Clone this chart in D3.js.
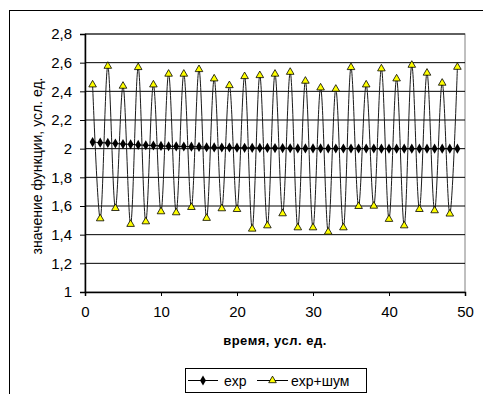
<!DOCTYPE html>
<html>
<head>
<meta charset="utf-8">
<script src="https://cdn.jsdelivr.net/npm/d3@7"></script>
<style>
  body { margin: 0; background: #fff; }
  svg { display: block; }
</style>
</head>
<body>
<div id="chartContainer"></div>
<script>
// time points
const times = d3.range(1, 50);

// exp series
const expValues = [
    2.046, 2.042, 2.040, 2.036, 2.032, 2.030, 2.026, 2.024, 2.022, 2.019,
    2.017, 2.016, 2.015, 2.014, 2.013, 2.010, 2.009, 2.008, 2.008, 2.007,
    2.006, 2.006, 2.005, 2.005, 2.004, 2.004, 2.003, 2.002, 2.002, 2.002,
    2.002, 2.001, 2.001, 2.001, 2.001, 2.001, 2.001, 2.001, 2.000, 2.000,
    2.000, 2.000, 2.000, 2.000, 2.000, 2.000, 2.000, 2.000, 2.000
];

// exp+noise series
const noiseValues = [
    2.446, 1.512, 2.576, 1.584, 2.437, 1.473, 2.567, 1.491, 2.446, 1.561,
    2.521, 1.554, 2.521, 1.591, 2.553, 1.515, 2.488, 1.582, 2.441, 1.577,
    2.504, 1.440, 2.511, 1.463, 2.521, 1.547, 2.534, 1.449, 2.472, 1.449,
    2.425, 1.419, 2.416, 1.449, 2.567, 1.598, 2.446, 1.600, 2.558, 1.508,
    2.488, 1.463, 2.583, 1.577, 2.528, 1.568, 2.458, 1.545, 2.569
];

const xTicks = [0, 10, 20, 30, 40, 50];
const yTicks = [1, 1.2, 1.4, 1.6, 1.8, 2, 2.2, 2.4, 2.6, 2.8];
const seriesNames = ['exp', 'exp+шум'];

const width = 483;
const height = 394;
const margin = { top: 34, right: 18, bottom: 102, left: 85 };

const svg = d3.select('#chartContainer')
    .append('svg')
    .attr('width', width)
    .attr('height', height)
    .style('font-family', '"Liberation Sans", Arial, sans-serif');

// outer chart frame
svg.append('rect')
    .attr('x', 9.5)
    .attr('y', 10.5)
    .attr('width', 500)
    .attr('height', 400)
    .attr('fill', 'none')
    .attr('stroke', '#000');

const scaleX = d3.scaleLinear()
    .domain([0, 50])
    .range([margin.left, width - margin.right]);

const scaleY = d3.scaleLinear()
    .domain([1, 2.8])
    .range([height - margin.bottom, margin.top]);

// plot area border
svg.append('rect')
    .attr('x', scaleX(0))
    .attr('y', scaleY(2.8))
    .attr('width', scaleX(50) - scaleX(0))
    .attr('height', scaleY(1) - scaleY(2.8))
    .attr('fill', 'none')
    .attr('stroke', '#808080');

// gridlines
svg.append('g')
    .selectAll('line')
    .data(yTicks.slice(1))
    .enter()
    .append('line')
    .attr('x1', scaleX(0))
    .attr('x2', scaleX(50))
    .attr('y1', d => scaleY(d))
    .attr('y2', d => scaleY(d))
    .attr('stroke', '#000')
    .attr('stroke-width', 1);

// X Axis
const xAxis = svg.append('g')
    .attr('transform', `translate(0, ${scaleY(1)})`)
    .call(d3.axisBottom(scaleX).tickValues(xTicks).tickSize(4).tickPadding(10).tickFormat(d3.format('d')));

// Y Axis
const yAxis = svg.append('g')
    .attr('transform', `translate(${scaleX(0)}, 0)`)
    .call(d3.axisLeft(scaleY).tickValues(yTicks).tickSize(5).tickPadding(8)
        .tickFormat(d => String(d3.format('.1~f')(d)).replace('.', ',')));

[xAxis, yAxis].forEach(ax => {
    ax.select('.domain').attr('stroke', '#000').attr('stroke-width', 1.5);
    ax.selectAll('.tick line').attr('stroke', '#000');
    ax.selectAll('.tick text')
        .attr('fill', '#000')
        .style('font-size', '15px')
        .style('font-family', '"Liberation Sans", Arial, sans-serif');
});

// axis titles
svg.append('text')
    .attr('x', (scaleX(0) + scaleX(50)) / 2)
    .attr('y', 345)
    .attr('text-anchor', 'middle')
    .style('font-size', '13px')
    .style('font-weight', 'bold')
    .style('letter-spacing', '0.5px')
    .text('время, усл. ед.');

svg.append('text')
    .attr('transform', `translate(42, ${(scaleY(1) + scaleY(2.8)) / 2 + 3}) rotate(-90)`)
    .attr('text-anchor', 'middle')
    .style('font-size', '14px')
    .text('значение функции, усл. ед.');

const expData = times.map((t, i) => ({ t: t, v: expValues[i] }));
const noiseData = times.map((t, i) => ({ t: t, v: noiseValues[i] }));

const lineMaker = d3.line()
    .x(d => scaleX(d.t))
    .y(d => scaleY(d.v))
    .curve(d3.curveCatmullRom.alpha(0.5));

svg.append('path')
    .attr('d', lineMaker(noiseData))
    .attr('fill', 'none')
    .attr('stroke', '#1a1a1a')
    .attr('stroke-width', 1);

svg.append('path')
    .attr('d', lineMaker(expData))
    .attr('fill', 'none')
    .attr('stroke', '#000')
    .attr('stroke-width', 1);

const diamond = d3.symbol(d3.symbolDiamond, 30);
const triangle = d3.symbol(d3.symbolTriangle, 25);

svg.append('g')
    .selectAll('path')
    .data(expData)
    .enter()
    .append('path')
    .attr('d', diamond())
    .attr('transform', d => `translate(${scaleX(d.t)},${scaleY(d.v)})`)
    .attr('fill', '#000');

svg.append('g')
    .selectAll('path')
    .data(noiseData)
    .enter()
    .append('path')
    .attr('d', triangle())
    .attr('transform', d => `translate(${scaleX(d.t)},${scaleY(d.v)})`)
    .attr('fill', '#ffff00')
    .attr('stroke', '#000')
    .attr('stroke-width', 0.8);

// legend
const legend = svg.append('g');
legend.append('rect')
    .attr('x', 185.5)
    .attr('y', 368.5)
    .attr('width', 181)
    .attr('height', 24)
    .attr('fill', '#fff')
    .attr('stroke', '#000');

const legendItems = [
    { name: seriesNames[0], x1: 188, x2: 218, text: 224, sym: diamond, fill: '#000' },
    { name: seriesNames[1], x1: 257, x2: 288, text: 291, sym: triangle, fill: '#ffff00' }
];

legendItems.forEach(d => {
    legend.append('line')
        .attr('x1', d.x1).attr('x2', d.x2)
        .attr('y1', 380.5).attr('y2', 380.5)
        .attr('stroke', '#000');
    legend.append('path')
        .attr('d', d.sym())
        .attr('transform', `translate(${(d.x1 + d.x2) / 2},380.5)`)
        .attr('fill', d.fill)
        .attr('stroke', d.fill === '#000' ? 'none' : '#000')
        .attr('stroke-width', 0.8);
    legend.append('text')
        .attr('x', d.text)
        .attr('y', 385.5)
        .style('font-size', '14px')
        .text(d.name);
});
</script>
</body>
</html>
